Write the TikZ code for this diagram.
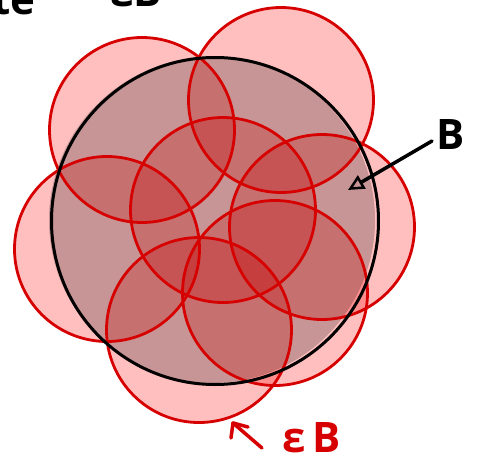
\documentclass[tikz,border=0pt]{standalone}
\usepackage{fontspec}
\setmainfont{Open Sans}
\usetikzlibrary{arrows.meta}
\definecolor{redline}{RGB}{214,0,0}
\definecolor{redfill}{RGB}{255,0,0}
\tikzset{
  ball/.style={circle, minimum size=185pt, inner sep=0pt},
  ballline/.style={draw=redline, line width=2.8pt},
  hand/.style={font=\fontsize{42}{42}\selectfont\bfseries, inner sep=0pt},
}
\begin{document}
\begin{tikzpicture}[x=1pt,y=-1pt]
\useasboundingbox (0,0) rectangle (480,461);
\clip (0,0) rectangle (480,461);
% centres of the small balls
\coordinate (c1) at (142,130);
\coordinate (c2) at (281,100);
\coordinate (c3) at (223,210);
\coordinate (c4) at (322,227);
\coordinate (c5) at (107,249);
\coordinate (c6) at (275,293);
\coordinate (c7) at (199,330);
\coordinate (cb) at (215,221);
% fills
\foreach \c in {c1,c2,c3,c4,c5,c6,c7}{
  \fill[redfill, fill opacity=0.25] (\c) circle[radius=92.5];
}
% big ball fill (grey, with a slight shadow to the left)
\fill[black, fill opacity=0.22] ([xshift=-3,yshift=1]cb) circle[radius=163];
% outlines
\foreach \c in {c1,c2,c3,c4,c5,c6,c7}{
  \node[ball, ballline] (n\c) at (\c) {};
}
\node[circle, minimum size=327pt, inner sep=0pt, draw=black, line width=3pt] (big) at (cb) {};
% label B
\node[hand, text=black, anchor=base west] (labB) at (436,149) {B};
\coordinate (Btail) at (432,141);
\coordinate (Btip) at (348,190);
\draw[line width=3.5pt, line cap=round, -{Triangle[open, length=16pt, width=15pt, line width=2.5pt]}] (Btail) -- (Btip);
% label epsilon B
\node[hand, text=redline, anchor=base west] (labE) at (282,452) {ε\,B};
\coordinate (Etail) at (262,448);
\coordinate (Etip) at (233,423);
\draw[redline, line width=3.5pt, line cap=round, line join=round] (Etail) .. controls (248,436) .. (Etip);
\draw[redline, line width=3.5pt, line cap=round, line join=round] (231,438) -- (Etip) -- (248,427);
% cut-off text at the top
\node[hand, anchor=base west, text=black] (topA) at (-8,14) {te};
\node[hand, anchor=base west, text=black] (topB) at (110,6) {εB};
\end{tikzpicture}
\end{document}
